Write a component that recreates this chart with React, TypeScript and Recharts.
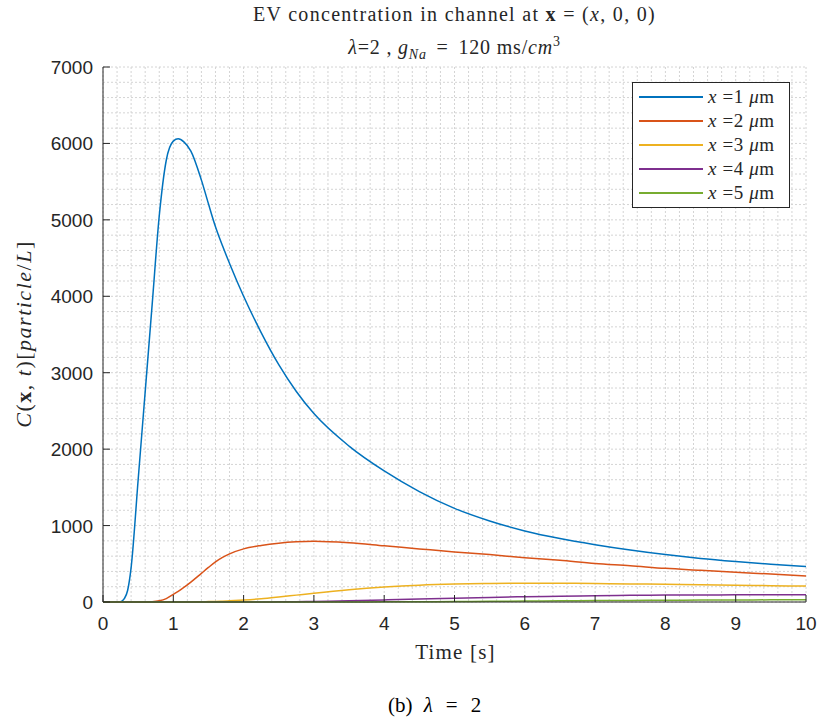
import React from "react";
import {
  LineChart,
  Line,
  XAxis,
  YAxis,
  CartesianGrid,
  Legend,
} from "recharts";

const time = [
  0, 0.2, 0.25, 0.3, 0.35, 0.4, 0.5, 0.6, 0.7, 0.8, 0.9, 1.0, 1.07, 1.15, 1.25,
  1.4, 1.5, 1.6, 1.7, 1.8, 2.0, 2.25, 2.5, 2.75, 3.0, 3.5, 4, 4.5, 5, 5.5, 6,
  6.5, 7, 7.5, 8, 8.5, 9, 9.5, 10,
];

const x1 = [
  0, 0, 2, 40, 150, 450, 1600, 2750, 3900, 5050, 5780, 6030, 6060, 6020, 5900,
  5520, 5210, 4910, 4660, 4430, 4000, 3525, 3105, 2755, 2465, 2040, 1715, 1445,
  1225, 1060, 930, 830, 750, 680, 620, 570, 530, 495, 465,
];
const x2 = [
  0, 0, 0, 0, 0, 0, 0, 0, 3, 15, 45, 100, 140, 190, 260, 375, 452, 525, 583,
  630, 695, 740, 770, 788, 795, 775, 735, 695, 655, 620, 580, 545, 505, 475,
  440, 415, 390, 365, 340,
];
const x3 = [
  0, 0, 0, 0, 0, 0, 0, 0, 0, 0, 0, 0, 0, 0, 0, 3, 5, 8, 11, 15, 25, 42, 65, 90,
  115, 160, 195, 220, 235, 243, 246, 245, 242, 237, 232, 226, 220, 214, 208,
];
const x4 = [
  0, 0, 0, 0, 0, 0, 0, 0, 0, 0, 0, 0, 0, 0, 0, 0, 0, 0, 0, 0, 0, 0, 2, 4, 8,
  16, 27, 39, 50, 60, 69, 76, 82, 87, 90, 92, 94, 95, 95,
];
const x5 = [
  0, 0, 0, 0, 0, 0, 0, 0, 0, 0, 0, 0, 0, 0, 0, 0, 0, 0, 0, 0, 0, 0, 0, 0, 0, 1,
  2, 4, 6, 9, 12, 15, 18, 21, 23, 25, 27, 28, 30,
];

const xTicks = [0, 1, 2, 3, 4, 5, 6, 7, 8, 9, 10];
const yTicks = [0, 1000, 2000, 3000, 4000, 5000, 6000, 7000];
const xMinor = Array.from({ length: 51 }, (_, i) => i / 5);
const yMinor = Array.from({ length: 36 }, (_, i) => i * 200);

const series = [
  { key: "x1", n: 1, color: "#0072BD", values: x1 },
  { key: "x2", n: 2, color: "#D95319", values: x2 },
  { key: "x3", n: 3, color: "#EDB120", values: x3 },
  { key: "x4", n: 4, color: "#7E2F8E", values: x4 },
  { key: "x5", n: 5, color: "#77AC30", values: x5 },
];

const data = time.map((t, i) => {
  const row: Record<string, number> = { t };
  series.forEach((s) => (row[s.key] = s.values[i]));
  return row;
});

const AXIS = "#262626";
const SANS = "'Liberation Sans', Arial, sans-serif";
const SERIF = "'Liberation Serif', 'Times New Roman', serif";

/* eslint-disable @typescript-eslint/no-explicit-any */
const applyScale = (axis: any, v: number) => {
  const sc = axis && axis.scale;
  if (!sc) return NaN;
  return typeof sc === "function" ? sc(v) : sc.map(v);
};

function BottomTick({ x, y, payload }: any) {
  return (
    <g>
      <line x1={x} y1={y} x2={x} y2={y - 7} stroke={AXIS} />
      <text x={x} y={y + 28} textAnchor="middle" fill={AXIS} fontSize={19} fontFamily={SANS}>
        {payload.value}
      </text>
    </g>
  );
}

function TopTick({ x, y }: any) {
  return <line x1={x} y1={y} x2={x} y2={y + 7} stroke={AXIS} />;
}

function LeftTick({ x, y, payload }: any) {
  return (
    <g>
      <line x1={x} y1={y} x2={x + 7} y2={y} stroke={AXIS} />
      <text x={x - 10} y={y + 7} textAnchor="end" fill={AXIS} fontSize={19} fontFamily={SANS}>
        {payload.value}
      </text>
    </g>
  );
}

function RightTick({ x, y }: any) {
  return <line x1={x} y1={y} x2={x - 7} y2={y} stroke={AXIS} />;
}

function LegendBox({ payload }: any) {
  return (
    <div
      style={{
        width: 158,
        height: 126,
        background: "#fff",
        border: "1px solid #262626",
        boxSizing: "border-box",
        padding: "2px 0 0 6px",
        fontFamily: SERIF,
        fontSize: 19,
        letterSpacing: 0.6,
        color: "#262626",
      }}
    >
      {(payload || []).map((p: any) => {
        const s = series.find((d) => d.key === p.dataKey);
        return (
          <div key={p.dataKey} style={{ display: "flex", alignItems: "center", height: 24 }}>
            <span style={{ width: 64, height: 1.5, background: p.color, marginRight: 5 }} />
            <span>
              <i>x</i> ={s ? s.n : ""} <i>μ</i>m
            </span>
          </div>
        );
      })}
    </div>
  );
}
/* eslint-enable @typescript-eslint/no-explicit-any */

export default function App() {
  return (
    <div
      style={{
        position: "absolute",
        left: 0,
        top: 0,
        width: 822,
        height: 726,
        background: "#fff",
        color: "#262626",
        fontFamily: SERIF,
      }}
    >
      {/* Title */}
      <div
        style={{
          position: "absolute",
          left: 0,
          top: 1,
          width: 909,
          textAlign: "center",
          fontSize: 20,
          letterSpacing: 1.3,
          lineHeight: "27px",
        }}
      >
        <div>
          EV concentration in channel at <b>x</b> = (<i>x</i>, 0, 0)
        </div>
        <div style={{ letterSpacing: 0.8 }}>
          <i>λ</i>=2 , <i>g</i>
          <sub style={{ fontSize: 14 }}>
            <i>Na</i>
          </sub>{" "}
          <span style={{ margin: "0 4px" }}>=</span> 120 ms/<i>cm</i>
          <sup style={{ fontSize: 14 }}>3</sup>
        </div>
      </div>

      <LineChart
        width={822}
        height={726}
        data={data}
        margin={{ top: 67, right: 16, bottom: 94, left: 43 }}
      >
        <CartesianGrid
          stroke="#d4d4d4"
          strokeDasharray="2 2"
          verticalCoordinatesGenerator={({ xAxis }: any) =>
            xMinor.map((v) => applyScale(xAxis, v))
          }
          horizontalCoordinatesGenerator={({ yAxis }: any) =>
            yMinor.map((v) => applyScale(yAxis, v))
          }
        />
        <XAxis
          dataKey="t"
          type="number"
          domain={[0, 10]}
          ticks={xTicks}
          height={30}
          tickSize={0}
          tickMargin={0}
          stroke={AXIS}
          tick={<BottomTick />}
          interval={0}
        />
        <XAxis
          xAxisId="top"
          orientation="top"
          dataKey="t"
          type="number"
          domain={[0, 10]}
          ticks={xTicks}
          height={0}
          tickSize={0}
          tickMargin={0}
          stroke={AXIS}
          tick={<TopTick />}
          interval={0}
        />
        <YAxis
          type="number"
          domain={[0, 7000]}
          ticks={yTicks}
          width={60}
          tickSize={0}
          tickMargin={0}
          stroke={AXIS}
          tick={<LeftTick />}
          interval={0}
        />
        <YAxis
          yAxisId="right"
          orientation="right"
          type="number"
          domain={[0, 7000]}
          ticks={yTicks}
          width={0}
          tickSize={0}
          tickMargin={0}
          stroke={AXIS}
          tick={<RightTick />}
          interval={0}
        />
        {series.map((s) => (
          <Line
            key={s.key}
            dataKey={s.key}
            type="monotone"
            stroke={s.color}
            strokeWidth={1.5}
            dot={false}
            isAnimationActive={false}
          />
        ))}
        <Legend
          layout="horizontal"
          verticalAlign="middle"
          align="center"
          content={<LegendBox />}
          wrapperStyle={{ position: "absolute", left: 632, top: 82, width: 158, height: 126 }}
        />
      </LineChart>

      {/* Axis labels */}
      <div
        style={{
          position: "absolute",
          left: 24 - 150,
          top: 334 - 14,
          width: 300,
          textAlign: "center",
          fontSize: 22,
          letterSpacing: 1.5,
          lineHeight: "28px",
          transform: "rotate(-90deg)",
        }}
      >
        <i>C</i>(<b>x</b>, <i>t</i>)[<i>particle</i>/<i>L</i>]
      </div>
      <div
        style={{
          position: "absolute",
          left: 0,
          top: 638,
          width: 911,
          textAlign: "center",
          fontSize: 21,
          letterSpacing: 1.2,
          lineHeight: "28px",
        }}
      >
        Time [s]
      </div>
      <div
        style={{
          position: "absolute",
          left: 388,
          top: 691,
          fontSize: 21,
          lineHeight: "28px",
          color: "#000",
          whiteSpace: "nowrap",
        }}
      >
        (b) <i style={{ marginLeft: 6 }}>λ</i>
        <span style={{ margin: "0 13px" }}>=</span>2
      </div>
    </div>
  );
}
